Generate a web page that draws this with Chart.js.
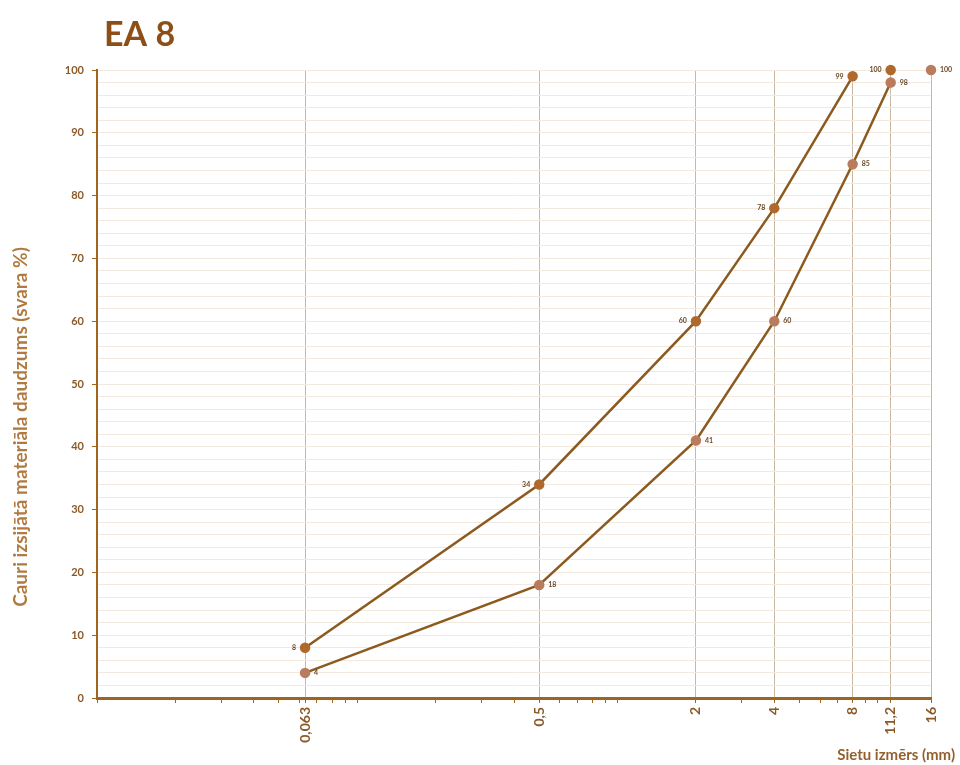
<!DOCTYPE html>
<html lang="lv">
<head>
  <meta charset="UTF-8">
  <title>EA 8</title>
  <script src="https://cdn.jsdelivr.net/npm/chart.js"></script>
  <style>
    html, body { margin: 0; padding: 0; background: #fff; }
    #wrap { width: 960px; height: 765px; position: relative; }
  </style>
</head>
<body>
<div id="wrap"><canvas id="grading"></canvas></div>
<script>
// sieve sizes (mm) and passing percentages
const sieveSizes = [0.063, 0.5, 2, 4, 8, 11.2, 16];
const upperSizes = [0.063, 0.5, 2, 4, 8, 11.2];
const upperPass  = [8, 34, 60, 78, 99, 100];
const lowerSizes = [0.063, 0.5, 2, 4, 8, 11.2, 16];
const lowerPass  = [4, 18, 41, 60, 85, 98, 100];
const yTicks = [0, 10, 20, 30, 40, 50, 60, 70, 80, 90, 100];

const brown = '#8c5a1e';
const axisBrown = '#a0641e';
const labelBrown = '#8a5a2a';

// minor log ticks (1..9 x 10^n) plus the sieve sizes
const minorTicks = [];
[0.01, 0.1, 1, 10].forEach(d => {
  for (let k = 1; k <= 9; k++) { const v = +(k * d).toFixed(4); if (v <= 16) minorTicks.push(v); }
});
const allXTicks = Array.from(new Set(minorTicks.concat(sieveSizes))).sort((a, b) => a - b);

const toXY = (xs, ys) => xs.map((x, i) => ({ x, y: ys[i] }));

const pointLabels = {
  id: 'pointLabels',
  afterDatasetsDraw(chart) {
    const ctx = chart.ctx;
    ctx.save();
    ctx.font = 'bold 7px Lato';
    ctx.fillStyle = '#6b4a2a';
    ctx.textBaseline = 'middle';
    chart.data.datasets.forEach((ds, di) => {
      const meta = chart.getDatasetMeta(di);
      meta.data.forEach((pt, i) => {
        const side = ds.labelSide;
        ctx.textAlign = side === 'left' ? 'right' : 'left';
        const dx = side === 'left' ? -9 : 9;
        ctx.fillText(String(ds.data[i].y), pt.x + dx, pt.y);
      });
    });
    ctx.restore();
  }
};

const titles = {
  id: 'titles',
  afterDraw(chart) {
    const ctx = chart.ctx;
    ctx.save();
    ctx.fillStyle = '#8c4f17';
    ctx.font = 'bold 34px Lato';
    ctx.textAlign = 'left';
    ctx.textBaseline = 'alphabetic';
    ctx.fillText('EA 8', 104, 46);

    ctx.fillStyle = '#93602c';
    ctx.font = 'bold 15px Lato';
    ctx.textAlign = 'right';
    ctx.textBaseline = 'middle';
    ctx.fillText('Sietu izmērs (mm)', 955, 755);

    ctx.fillStyle = '#b07a40';
    ctx.translate(21, 427);
    ctx.rotate(-Math.PI / 2);
    ctx.textAlign = 'center';
    ctx.font = 'bold 19px Lato';
    ctx.fillText('Cauri izsijātā materiāla daudzums (svara %)', 0, 0);
    ctx.restore();
  }
};

new Chart(document.getElementById('grading'), {
  type: 'line',
  data: {
    datasets: [
      {
        label: 'Augšējā robeža',
        data: toXY(upperSizes, upperPass),
        labelSide: 'left',
        clip: false,
        borderColor: brown,
        borderWidth: 2.5,
        pointRadius: 4,
        pointBackgroundColor: '#b0692c',
        pointBorderColor: '#b0692c',
        segment: { borderColor: c => c.p0DataIndex === 4 ? 'transparent' : brown }
      },
      {
        label: 'Apakšējā robeža',
        data: toXY(lowerSizes, lowerPass),
        labelSide: 'right',
        clip: false,
        borderColor: brown,
        borderWidth: 2.5,
        pointRadius: 4,
        pointBackgroundColor: '#b97c5c',
        pointBorderColor: '#b97c5c',
        segment: { borderColor: c => c.p0DataIndex === 5 ? 'transparent' : brown }
      }
    ]
  },
  options: {
    responsive: true,
    maintainAspectRatio: false,
    animation: false,
    layout: { padding: { top: 70, right: 29, left: 0, bottom: 0 } },
    plugins: {
      legend: { display: false },
      tooltip: { enabled: false }
    },
    scales: {
      x: {
        type: 'logarithmic',
        min: 0.01,
        max: 16,
        afterBuildTicks: s => { s.ticks = allXTicks.map(v => ({ value: v })); },
        afterFit: s => { s.height = 67; },
        border: { color: axisBrown, width: 3 },
        grid: {
          color: c => (c.tick && sieveSizes.includes(c.tick.value)) ? '#c8b8a4' : 'transparent',
          tickColor: axisBrown,
          tickLength: 5,
          lineWidth: 1
        },
        ticks: {
          autoSkip: false,
          minRotation: 90,
          maxRotation: 90,
          padding: 4,
          color: labelBrown,
          font: { family: 'Lato', size: 14, weight: 'bold' },
          callback: v => sieveSizes.includes(v) ? String(v).replace('.', ',') : ''
        }
      },
      y: {
        min: 0,
        max: 100,
        afterBuildTicks: s => {
          const t = [];
          for (let v = 0; v <= 100; v += 2) t.push({ value: v });
          s.ticks = t;
        },
        afterFit: s => { s.width = 97; },
        border: { color: axisBrown, width: 2 },
        grid: {
          color: '#f3e9de',
          tickColor: c => (c.tick && yTicks.includes(c.tick.value)) ? axisBrown : 'transparent',
          tickLength: 5
        },
        ticks: {
          autoSkip: false,
          padding: 8,
          color: labelBrown,
          font: { family: 'Lato', size: 11, weight: 'bold' },
          callback: v => yTicks.includes(v) ? String(v) : ''
        }
      }
    }
  },
  plugins: [pointLabels, titles]
});
</script>
</body>
</html>
